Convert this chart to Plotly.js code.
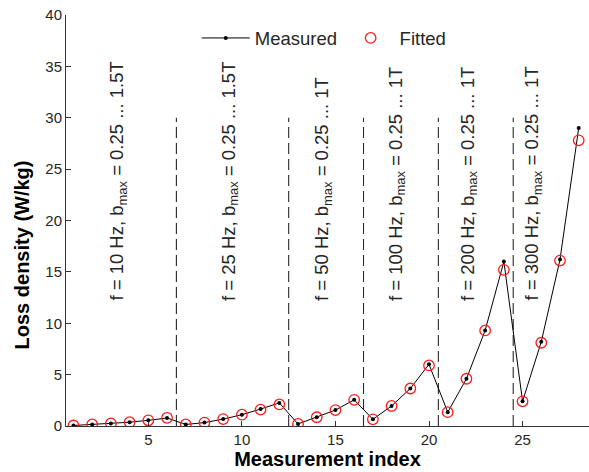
<!DOCTYPE html>
<html>
<head>
<meta charset="utf-8">
<script src="https://cdn.plot.ly/plotly-3.0.1.min.js"></script>
<style>
  html, body { margin: 0; padding: 0; background: #fff; }
  #chart { width: 589px; height: 472px; }
</style>
</head>
<body>
<div id="chart"></div>
<script>
// Loss density per measurement, grouped by excitation frequency
const measurementIndex = Array.from({length: 28}, (_, i) => i + 1);

const measuredLoss = [
  0.05, 0.15, 0.25, 0.37, 0.55, 0.78,
  0.15, 0.33, 0.67, 1.10, 1.65, 2.25,
  0.20, 0.85, 1.55, 2.55,
  0.65, 1.95, 3.65, 6.00,
  1.35, 4.60, 9.30, 16.0,
  2.40, 8.20, 16.2, 29.0
];

const fittedLoss = [
  0.05, 0.15, 0.25, 0.37, 0.55, 0.80,
  0.15, 0.33, 0.67, 1.10, 1.60, 2.10,
  0.20, 0.85, 1.55, 2.55,
  0.65, 1.95, 3.65, 5.90,
  1.35, 4.60, 9.30, 15.2,
  2.40, 8.10, 16.1, 27.8
];

// Number of measurements in each frequency group
const groupSizes = [6, 6, 4, 4, 4, 4];

const groupLabels = [
  "f = 10 Hz, b<sub>max</sub> = 0.25 ... 1.5T",
  "f = 25 Hz, b<sub>max</sub> = 0.25 ... 1.5T",
  "f = 50 Hz, b<sub>max</sub> = 0.25 ... 1T",
  "f = 100 Hz, b<sub>max</sub> = 0.25 ... 1T",
  "f = 200 Hz, b<sub>max</sub> = 0.25 ... 1T",
  "f = 300 Hz, b<sub>max</sub> = 0.25 ... 1T"
];
const groupLabelX = [3.4, 9.35, 14.3, 18.25, 22.1, 25.55];

const xTicks = [5, 10, 15, 20, 25];
const yTicks = [0, 5, 10, 15, 20, 25, 30, 35, 40];

// Separators sit halfway between the last point of a group and the first of the next
const separators = [];
let running = 0;
for (let g = 0; g < groupSizes.length - 1; g++) {
  running += groupSizes[g];
  separators.push(running + 0.5);
}

const FONT = "Liberation Sans, Arial, Helvetica, sans-serif";
const INK = "#262626";
const separatorTop = 30;
const labelBase = 12;

const traces = [
  {
    x: measurementIndex,
    y: measuredLoss,
    name: "Measured",
    type: "scatter",
    mode: "lines+markers",
    line: {color: "#000", width: 1},
    marker: {color: "#000", size: 4, symbol: "circle"},
    legend: "legend"
  },
  {
    x: measurementIndex,
    y: fittedLoss,
    name: "Fitted",
    type: "scatter",
    mode: "markers",
    marker: {color: "#ff1a1a", size: 10.5, symbol: "circle-open", line: {width: 1.3}},
    legend: "legend2"
  }
];

const shapes = separators.map(s => ({
  type: "line",
  xref: "x", yref: "y",
  x0: s, x1: s, y0: 0, y1: separatorTop,
  line: {color: "#2a2a2a", width: 1.1, dash: "11px,5px"},
  layer: "below"
}));

const annotations = groupLabels.map((t, i) => ({
  text: t,
  x: groupLabelX[i], y: labelBase,
  xref: "x", yref: "y",
  xanchor: "center", yanchor: "bottom",
  textangle: -90,
  showarrow: false,
  font: {family: FONT, size: 18.5, color: INK}
}));

// Vertical axis title, set a little below the middle of the axis
annotations.push({
  text: "<b>Loss density (W/kg)</b>",
  xref: "paper", yref: "paper",
  x: 0, y: 0.415,
  xanchor: "right", yanchor: "middle",
  xshift: -31,
  textangle: -90,
  showarrow: false,
  font: {family: FONT, size: 20, color: "#000"}
});

const legendCommon = {
  orientation: "h",
  xref: "paper", yref: "paper",
  yanchor: "middle",
  bgcolor: "rgba(0,0,0,0)",
  font: {family: FONT, size: 18.5, color: INK},
  itemwidth: 48
};

const layout = {
  width: 589,
  height: 472,
  margin: {l: 66, r: 0, t: 15, b: 46},
  paper_bgcolor: "#fff",
  plot_bgcolor: "#fff",
  font: {family: FONT, size: 15, color: INK},
  showlegend: true,
  legend: Object.assign({}, legendCommon, {x: 0.25, y: 0.943, xanchor: "left"}),
  legend2: Object.assign({}, legendCommon, {x: 0.527, y: 0.943, xanchor: "left"}),
  xaxis: {
    range: [0.6, 28.55],
    tickvals: xTicks,
    ticktext: xTicks.map(String),
    ticks: "inside",
    ticklen: 5,
    tickcolor: "#333",
    showline: true,
    linecolor: "#333",
    linewidth: 1,
    showgrid: false,
    zeroline: false,
    tickfont: {family: FONT, size: 15, color: INK},
    title: {text: "Measurement index", font: {family: FONT, size: 20, color: "#000", weight: "bold"}, standoff: 4}
  },
  yaxis: {
    range: [0, 40],
    tickvals: yTicks,
    ticktext: yTicks.map(String),
    ticks: "inside",
    ticklen: 5,
    tickcolor: "#333",
    showline: true,
    linecolor: "#333",
    linewidth: 1,
    showgrid: false,
    zeroline: false,
    tickfont: {family: FONT, size: 15, color: INK}
  },
  shapes: shapes,
  annotations: annotations
};

Plotly.newPlot("chart", traces, layout, {displayModeBar: false, staticPlot: true});
</script>
</body>
</html>
